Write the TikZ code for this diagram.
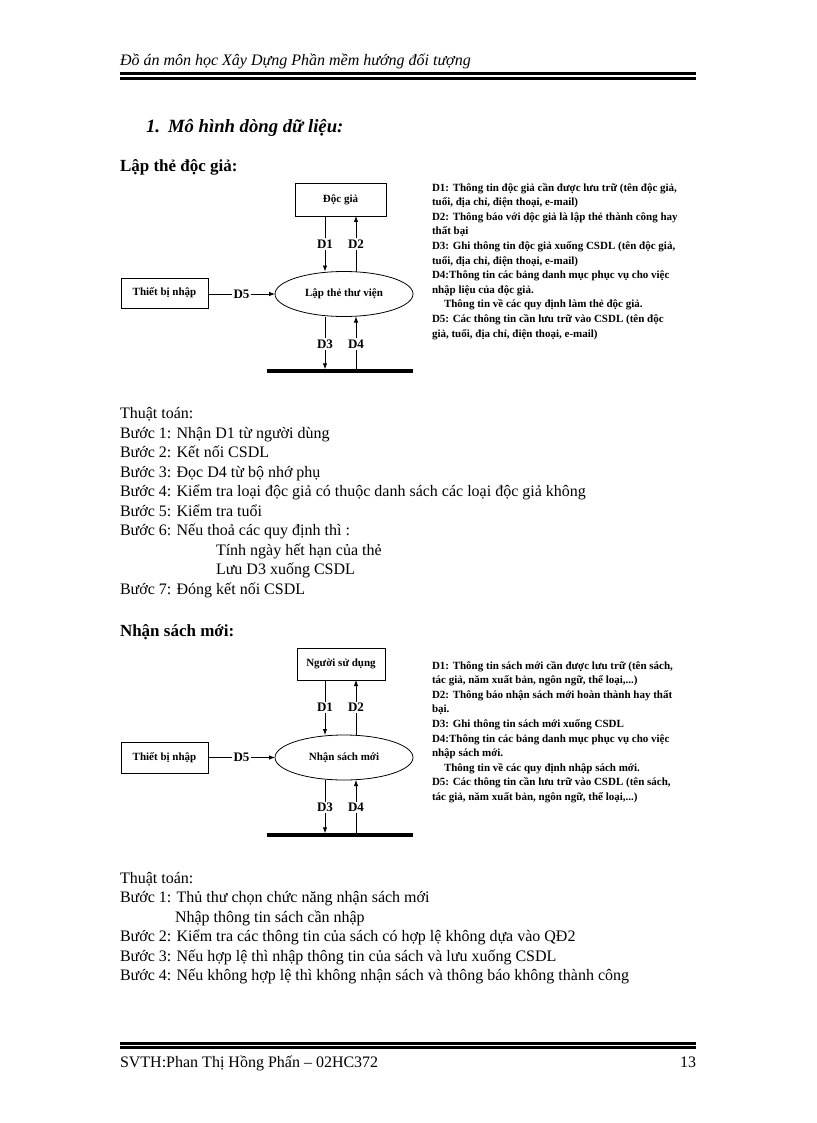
\documentclass[tikz,border=0pt]{standalone}
\usepackage{fontspec}
\setmainfont{Liberation Serif}
\usetikzlibrary{arrows.meta,shapes.geometric,positioning}
\newcommand\bodyfont{\fontsize{16}{19.5}\selectfont}
\newcommand\dfdfont{\fontsize{11}{13}\selectfont\bfseries}
\newcommand\notefont{\fontsize{11}{14.6}\selectfont\bfseries}
\begin{document}
\begin{tikzpicture}[x=1pt,y=-1pt,
  every node/.style={inner sep=0pt,outer sep=0pt},
  box/.style={draw,line width=0.8pt,font=\dfdfont},
  proc/.style={draw,ellipse,line width=0.8pt,minimum width=138,minimum height=45,font=\dfdfont},
  flow/.style={-{Latex[length=6pt,width=4.5pt]},line width=0.8pt},
  lbl/.style={fill=white,font=\fontsize{13}{15}\selectfont\bfseries,inner sep=1.5pt,text height=8.6pt,text depth=0pt},
  store/.style={line width=3.5pt},
  note/.style={anchor=base west,align=left,font=\notefont},
  body/.style={anchor=base west,align=left,font=\bodyfont},
  bar/.style={line width=3pt}]
\useasboundingbox (0,0) rectangle (816,1123);
% header and footer
\node[anchor=base west,font=\bodyfont\itshape] (head) at (120,66) {Đồ án môn học Xây Dựng Phần mềm hướng đối tượng};
\draw[bar] (120,74) -- (696,74);
\draw[bar] (120,78.5) -- (696,78.5);
\draw[bar] (120,1043) -- (696,1043);
\draw[bar] (120,1047.5) -- (696,1047.5);
\node[anchor=base west,font=\bodyfont] (foot) at (120,1067) {SVTH:Phan Thị Hồng Phấn – 02HC372};
\node[anchor=base east,font=\bodyfont] (page) at (696,1067) {13};
% titles
\node[anchor=base west,font=\fontsize{18.7}{22}\selectfont\bfseries\itshape] (title) at (146,133) {1.\hspace{8pt}Mô hình dòng dữ liệu:};
\node[anchor=base west,font=\fontsize{17}{20}\selectfont\bfseries] (sec1) at (120,172) {Lập thẻ độc giả:};
\node[anchor=base west,font=\fontsize{17}{20}\selectfont\bfseries] (sec2) at (120,636) {Nhận sách mới:};
% diagram 1
\begin{scope}
\node[box,minimum width=91,minimum height=33] (dg) at (340.5,199.5) {Độc giả};
\node[proc] (lt) at (344,294) {Lập thẻ thư viện};
\node[box,minimum width=87,minimum height=30] (tb1) at (164.5,293) {Thiết bị nhập};
\coordinate (s1a) at (267,371);
\coordinate (s1b) at (413,371);
\coordinate (x1) at (325,0);
\coordinate (x2) at (356,0);
\draw[store] (s1a) -- (s1b);
\draw[flow] (tb1.east |- lt.west) -- node[lbl]{D5} (lt.west);
\draw[flow] (dg.south -| x1) -- node[lbl]{D1} (lt.north -| x1);
\draw[flow] (lt.north -| x2) -- node[lbl]{D2} (dg.south -| x2);
\draw[flow,shorten >=1.75pt] (lt.south -| x1) -- node[lbl]{D3} (s1a -| x1);
\draw[flow,shorten <=1.75pt] (s1a -| x2) -- node[lbl]{D4} (lt.south -| x2);
\node[note] (n1) at (432,337) {D1: Thông tin độc giả cần được lưu trữ (tên độc giả,\\
tuổi, địa chỉ, điện thoại, e-mail)\\
D2: Thông báo với độc giả là lập thẻ thành công hay\\
thất bại\\
D3: Ghi thông tin độc giả xuống CSDL (tên độc giả,\\
tuổi, địa chỉ, điện thoại, e-mail)\\
D4:Thông tin các bảng danh mục phục vụ cho việc\\
nhập liệu của độc giả.\\
\hspace*{12pt}Thông tin về các quy định làm thẻ độc giả.\\
D5: Các thông tin cần lưu trữ vào CSDL (tên độc\\
giả, tuổi, địa chỉ, điện thoại, e-mail)};
\end{scope}
\node[body] (alg1) at (120,594) {Thuật toán:\\
Bước 1: Nhận D1 từ người dùng\\
Bước 2: Kết nối CSDL\\
Bước 3: Đọc D4 từ bộ nhớ phụ\\
Bước 4: Kiểm tra loại độc giả có thuộc danh sách các loại độc giả không\\
Bước 5: Kiểm tra tuổi\\
Bước 6: Nếu thoả các quy định thì :\\
\hspace*{96pt}Tính ngày hết hạn của thẻ\\
\hspace*{96pt}Lưu D3 xuống CSDL\\
Bước 7: Đóng kết nối CSDL};
% diagram 2
\begin{scope}
\node[box,minimum width=88,minimum height=32] (nsd) at (341,664) {Người sử dụng};
\node[proc] (ns) at (344,757.5) {Nhận sách mới};
\node[box,minimum width=87,minimum height=31] (tb2) at (164.5,757.5) {Thiết bị nhập};
\coordinate (s2a) at (267,835);
\coordinate (s2b) at (413,835);
\draw[store] (s2a) -- (s2b);
\draw[flow] (tb2.east |- ns.west) -- node[lbl]{D5} (ns.west);
\draw[flow] (nsd.south -| x1) -- node[lbl]{D1} (ns.north -| x1);
\draw[flow] (ns.north -| x2) -- node[lbl]{D2} (nsd.south -| x2);
\draw[flow,shorten >=1.75pt] (ns.south -| x1) -- node[lbl]{D3} (s2a -| x1);
\draw[flow,shorten <=1.75pt] (s2a -| x2) -- node[lbl]{D4} (ns.south -| x2);
\node[note] (n2) at (432,800.5) {D1: Thông tin sách mới cần được lưu trữ (tên sách,\\
tác giả, năm xuất bản, ngôn ngữ, thể loại,...)\\
D2: Thông báo nhận sách mới hoàn thành hay thất\\
bại.\\
D3: Ghi thông tin sách mới xuống CSDL\\
D4:Thông tin các bảng danh mục phục vụ cho việc\\
nhập sách mới.\\
\hspace*{12pt}Thông tin về các quy định nhập sách mới.\\
D5: Các thông tin cần lưu trữ vào CSDL (tên sách,\\
tác giả, năm xuất bản, ngôn ngữ, thể loại,...)};
\end{scope}
\node[body] (alg2) at (120,980.5) {Thuật toán:\\
Bước 1: Thủ thư chọn chức năng nhận sách mới\\
\hspace*{55pt}Nhập thông tin sách cần nhập\\
Bước 2: Kiểm tra các thông tin của sách có hợp lệ không dựa vào QĐ2\\
Bước 3: Nếu hợp lệ thì nhập thông tin của sách và lưu xuống CSDL\\
Bước 4: Nếu không hợp lệ thì không nhận sách và thông báo không thành công};
\end{tikzpicture}
\end{document}
